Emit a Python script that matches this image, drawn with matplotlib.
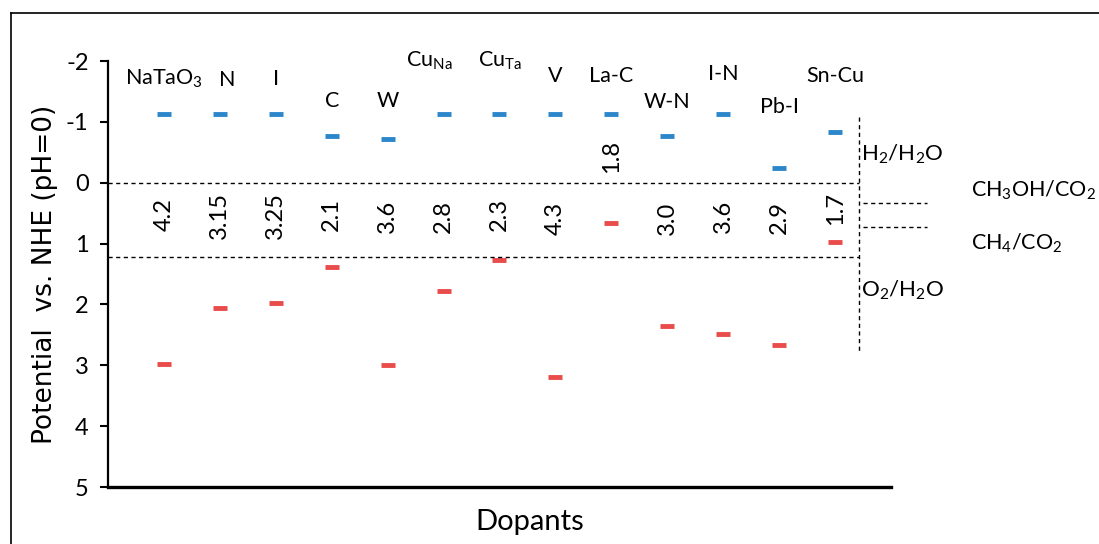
import numpy as np
import matplotlib
matplotlib.use("Agg")
import matplotlib.pyplot as plt
from matplotlib.lines import Line2D

plt.rcParams['font.family'] = ['Lato', 'DejaVu Sans']
plt.rcParams['mathtext.default'] = 'regular'
plt.rcParams['axes.unicode_minus'] = False

# data
dopants = ['NaTaO$_3$', 'N', 'I', 'C', 'W', 'Cu$_{Na}$', 'Cu$_{Ta}$', 'V',
           'La-C', 'W-N', 'I-N', 'Pb-I', 'Sn-Cu']
cb = [-1.13, -1.13, -1.13, -0.76, -0.72, -1.13, -1.13, -1.13, -1.13, -0.76, -1.13, -0.25, -0.84]
vb = [2.98, 2.06, 1.98, 1.38, 3.00, 1.78, 1.27, 3.20, 0.66, 2.36, 2.49, 2.67, 0.97]
gaps = ['4.2', '3.15', '3.25', '2.1', '3.6', '2.8', '2.3', '4.3', '1.8', '3.0', '3.6', '2.9', '1.7']
h2_level = 0.0
o2_level = 1.22
co2_levels = [0.33, 0.72]
co2_names = ['CH$_3$OH/CO$_2$', 'CH$_4$/CO$_2$']

# layout of the annotations
name_y = [-1.70, -1.68, -1.70, -1.35, -1.35, -2.0, -2.0, -1.75, -1.75, -1.32, -1.78, -1.25, -1.76]
name_dx = [0, 0.13, 0, 0, 0, -0.25, 0, 0, 0, 0, 0, 0, 0]
gap_y = [0.52, 0.54, 0.54, 0.52, 0.56, 0.56, 0.52, 0.58, -0.43, 0.58, 0.56, 0.57, 0.43]

blue = '#2c86ca'
red = '#e84c4b'

fig = plt.figure(figsize=(10.99, 5.44), dpi=100)
ax = fig.add_axes([108/1099, 1-487/544, (891-108)/1099, (487-61)/544])

x = np.arange(1, len(dopants) + 1)
ax.plot(x, cb, ls='none', marker='_', ms=10, mew=3.5, color=blue)
ax.plot(x, vb, ls='none', marker='_', ms=10, mew=3.5, color=red)

for i in range(len(dopants)):
    ax.text(x[i] + name_dx[i], name_y[i], dopants[i], ha='center', va='center',
            fontsize=15.5, clip_on=False)
    ax.text(x[i], gap_y[i], gaps[i], rotation=90, ha='center', va='center', fontsize=17)

# reference potentials
dash = dict(color='black', lw=1, ls=(0, (3, 2.5)), clip_on=False)
xv = 13.43
ax.plot([0, xv], [h2_level, h2_level], **dash)
ax.plot([0, xv], [o2_level, o2_level], **dash)
ax.plot([xv, xv], [-1.08, 2.78], **dash)
for lv, nm in zip(co2_levels, co2_names):
    ax.plot([xv + 0.07, 14.65], [lv, lv], **dash)
    ax.text(15.43, lv - 0.2 if lv < 0.5 else lv + 0.28, nm, ha='left', va='center',
            fontsize=15.5, clip_on=False)
ax.text(13.47, -0.46, 'H$_2$/H$_2$O', ha='left', va='center', fontsize=16)
ax.text(13.47, 1.77, 'O$_2$/H$_2$O', ha='left', va='center', fontsize=16)

ax.set_xlim(0, 14)
ax.set_ylim(5, -2)
ax.set_yticks(range(-2, 6))
ax.set_xticks([])
ax.tick_params(axis='y', direction='out', length=6, width=1.5, labelsize=17, pad=8)
for s in ['top', 'right']:
    ax.spines[s].set_visible(False)
ax.spines['left'].set_linewidth(1.6)
ax.spines['bottom'].set_linewidth(2.4)

ax.set_ylabel('Potential  vs. NHE (pH=0)', fontsize=19, family='DejaVu Sans', labelpad=6)
fig.text(530/1099, 1-522/544, 'Dopants', ha='center', va='center', fontsize=21)

# outer frame
fig.add_artist(Line2D([11/1099, 1], [1-13/544, 1-13/544], color='black', lw=1.2))
fig.add_artist(Line2D([11/1099, 11/1099], [0, 1-13/544], color='black', lw=1.2))

fig.savefig('out.png', dpi=100)
